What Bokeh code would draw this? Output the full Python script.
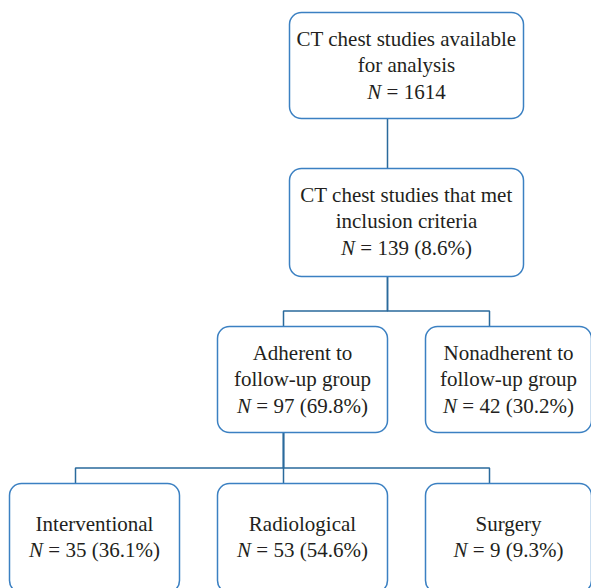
from bokeh.plotting import figure
from bokeh.models import Range1d
from bokeh.core.properties import value
from bokeh.embed import file_html
from bokeh.resources import INLINE

# ---- data ----
node_titles = [
    ["CT chest studies available", "for analysis"],
    ["CT chest studies that met", "inclusion criteria"],
    ["Adherent to", "follow-up group"],
    ["Nonadherent to", "follow-up group"],
    ["Interventional"],
    ["Radiological"],
    ["Surgery"],
]
node_counts = [1614, 139, 97, 42, 35, 53, 9]
node_pcts = [None, 8.6, 69.8, 30.2, 36.1, 54.6, 9.3]
node_parent = [None, 0, 1, 1, 2, 2, 2]

# ---- layout (styles / positions) ----
node_cx = [406, 406, 302, 508, 94, 302, 508]
node_w = [234, 234, 170, 166, 170, 170, 166]
node_top = [12, 168, 326, 326, 483, 483, 483]
node_bot = [118, 276, 432, 432, 592, 592, 592]
first_baseline = [38, 194, 352, 352, 523, 523, 523]
line_gap = 26.5
conn_off = -19

FS = 21
FONT = "Liberation Serif"
TXT = "#231f20"
BOX = "#3b80c2"
LINE = "#2a6a9c"
NB = "\u00a0"

# Times metrics (per 1000 em)
W = {" ": 250, NB: 250, "=": 564, "(": 333, ")": 333, "%": 833, ".": 250}
for d in "0123456789":
    W[d] = 500
W_N_ITALIC = 667


def tw(s):
    return sum(W.get(c, 500) for c in s) * FS / 1000.0


p = figure(width=591, height=588, x_range=Range1d(0, 591), y_range=Range1d(588, 0),
           output_backend="svg", toolbar_location=None, min_border=0)
p.axis.visible = False
p.grid.visible = False
p.outline_line_color = None
p.background_fill_color = "white"

# connectors
for i, par in enumerate(node_parent):
    if par is None:
        continue
    px = node_cx[par] + conn_off
    cx = node_cx[i] + conn_off
    siblings = [j for j, q in enumerate(node_parent) if q == par]
    if len(siblings) == 1:
        p.line([px, px], [node_bot[par], node_top[i]], line_color=LINE, line_width=1.5)
    else:
        ymid = node_top[i] - 15.5
        p.line([px, px, cx, cx], [node_bot[par], ymid, ymid, node_top[i]],
               line_color=LINE, line_width=1.5)

# boxes
lefts = [c - w / 2 for c, w in zip(node_cx, node_w)]
rights = [c + w / 2 for c, w in zip(node_cx, node_w)]
p.quad(left=lefts, right=rights, top=node_top, bottom=node_bot,
       fill_color="white", line_color=BOX, line_width=1.5, border_radius=12)

# texts
tx, ty, tt = [], [], []
nx, ny = [], []
rx, ry, rt = [], [], []
for i in range(len(node_titles)):
    y = first_baseline[i]
    for ln in node_titles[i]:
        tx.append(node_cx[i]); ty.append(y); tt.append(ln)
        y += line_gap
    rest = NB + "=" + NB + "%d" % node_counts[i]
    if node_pcts[i] is not None:
        rest += NB + "(%.1f%%)" % node_pcts[i]
    wN = W_N_ITALIC * FS / 1000.0
    total = wN + tw(rest)
    x0 = node_cx[i] - total / 2
    nx.append(x0); ny.append(y)
    rx.append(x0 + wN); ry.append(y); rt.append(rest)

p.text(x=tx, y=ty, text=tt, text_align="center", text_baseline="alphabetic",
       text_font=value(FONT), text_font_size="%dpx" % FS, text_color=TXT)
p.text(x=nx, y=ny, text=["N"] * len(nx), text_align="left", text_baseline="alphabetic",
       text_font=value(FONT), text_font_style="italic", text_font_size="%dpx" % FS, text_color=TXT)
p.text(x=rx, y=ry, text=rt, text_align="left", text_baseline="alphabetic",
       text_font=value(FONT), text_font_size="%dpx" % FS, text_color=TXT)

open("out.html", "w").write(file_html(p, INLINE))
